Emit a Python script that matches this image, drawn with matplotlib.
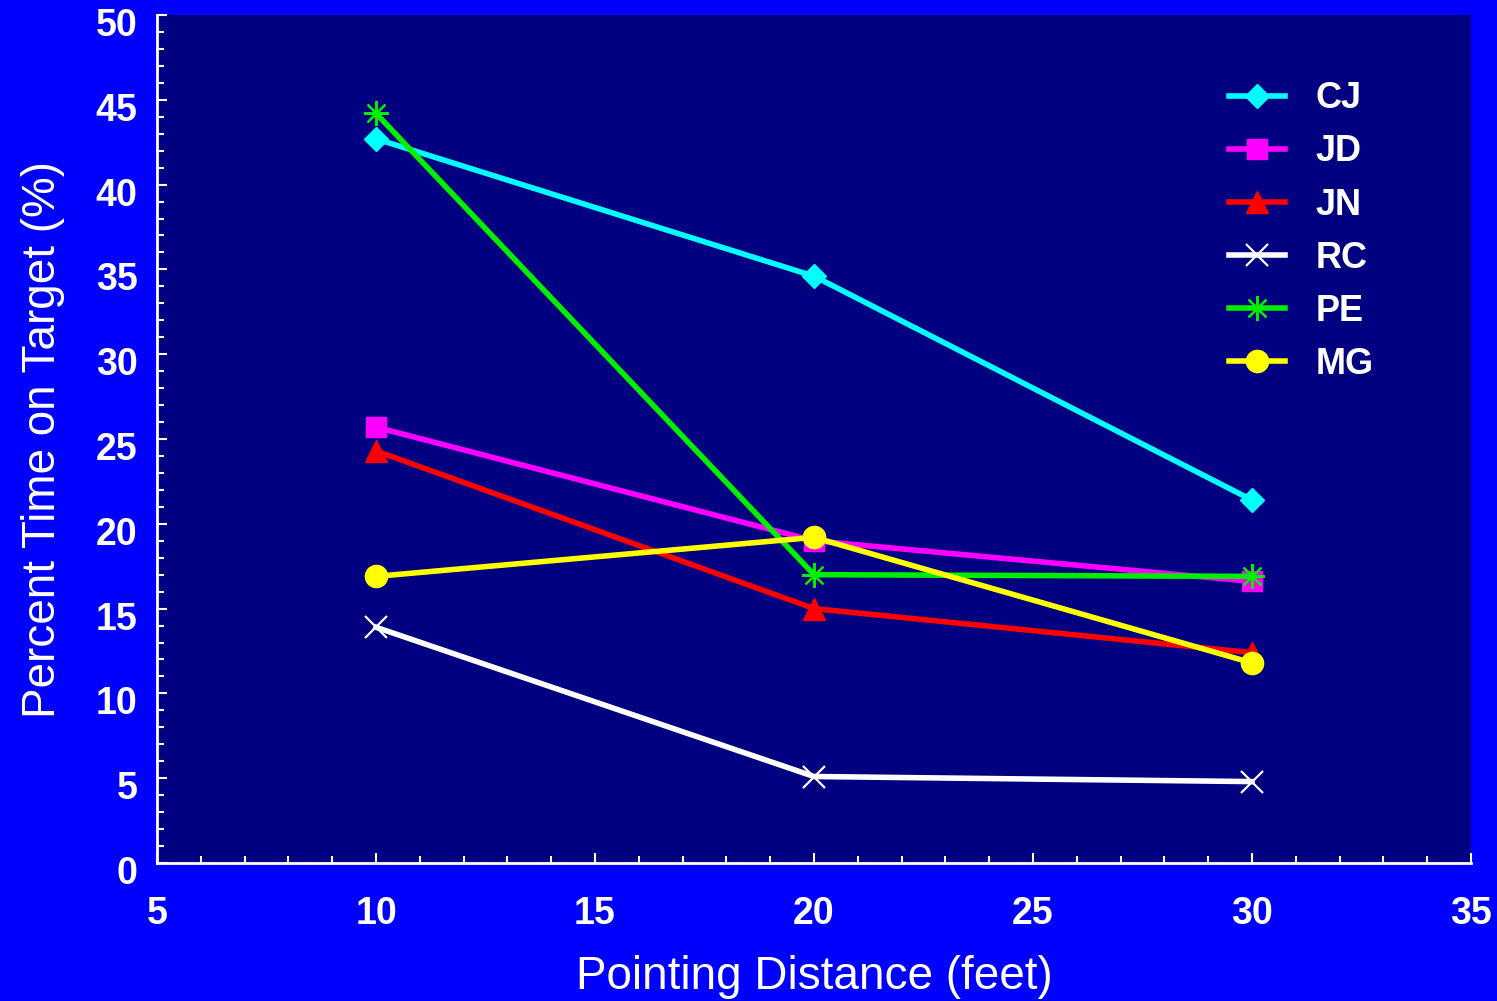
import matplotlib
matplotlib.use("Agg")
import matplotlib.pyplot as plt
from matplotlib.ticker import MultipleLocator
from matplotlib.transforms import ScaledTranslation

# Pointing distance (feet) and percent time on target per subject
distance = [10, 20, 30]
subjects = ["CJ", "JD", "JN", "RC", "PE", "MG"]
cj = [42.7, 34.6, 21.4]
jd = [25.7, 19.0, 16.6]
jn = [24.3, 15.0, 12.4]
rc = [13.9, 5.1, 4.8]
pe = [44.2, 17.0, 16.9]
mg = [16.9, 19.2, 11.8]

colors = ["#00FFFF", "#FF00FF", "#FF0000", "#FFFFFF", "#00EE00", "#FFFF00"]
markers = ["D", "s", "^", "x", (8, 2, 0), "o"]
msizes = [12.5, 14, 16, 16, 18, 16]

plt.rcParams["font.family"] = ["Liberation Sans", "DejaVu Sans"]

fig = plt.figure(figsize=(14.97, 10.01), dpi=100)
fig.patch.set_facecolor("#0000FF")
ax = fig.add_axes([157 / 1497, 138 / 1001, 1314 / 1497, 848 / 1001])
ax.set_facecolor("#000080")

for name, vals, c, m, ms in zip(subjects, [cj, jd, jn, rc, pe, mg], colors, markers, msizes):
    ax.plot(distance, vals, color=c, lw=4, marker=m, markersize=ms,
            markeredgewidth=1.6 if m in ("x", (8, 2, 0)) else 1,
            markerfacecolor=c, markeredgecolor=c, label=name, clip_on=False)

ax.set_xlim(5, 35)
ax.set_ylim(0, 50)
ax.xaxis.set_major_locator(MultipleLocator(5))
ax.xaxis.set_minor_locator(MultipleLocator(1))
ax.yaxis.set_major_locator(MultipleLocator(5))
ax.yaxis.set_minor_locator(MultipleLocator(1))

for side in ("top", "right"):
    ax.spines[side].set_visible(False)
for side in ("left", "bottom"):
    ax.spines[side].set_color("white")
    ax.spines[side].set_linewidth(2)

ax.tick_params(which="both", direction="in", color="white", width=1.5)
ax.tick_params(which="major", length=7, labelsize=27, labelcolor="white")
ax.tick_params(which="minor", length=5)
ax.tick_params(axis="x", which="major", pad=24)
ax.tick_params(axis="y", which="major", pad=14)
for lbl in ax.get_xticklabels() + ax.get_yticklabels():
    lbl.set_fontweight("bold")

# y labels sit a little below their ticks
shift = ScaledTranslation(0, -7 / 100, fig.dpi_scale_trans)
for lbl in ax.get_yticklabels():
    lbl.set_transform(lbl.get_transform() + shift)

ax.set_xlabel("Pointing Distance (feet)", fontsize=33, color="white", labelpad=16)
ax.set_ylabel("Percent Time on Target (%)", fontsize=33, color="white", labelpad=22)

leg = ax.legend(loc="upper right", bbox_to_anchor=(0.951, 0.96), frameon=False,
                handlelength=1.55, handletextpad=0.85, labelspacing=0.5,
                prop={"weight": "bold", "size": 26})
for t in leg.get_texts():
    t.set_color("white")

fig.savefig("out.png", dpi=100, facecolor=fig.get_facecolor())
